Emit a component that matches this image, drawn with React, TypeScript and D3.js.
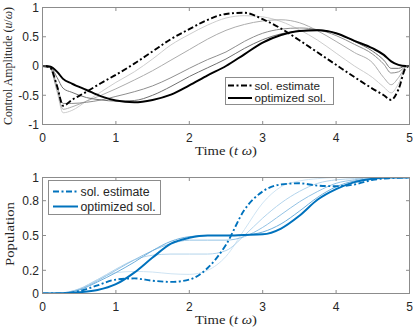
import * as d3 from 'd3'

// time grids (t·ω)
const ctrlT = [0, 0.1, 0.2, 0.28, 0.4, 0.6, 0.8, 1, 1.25, 1.5, 1.75, 2, 2.25, 2.5, 2.75, 3, 3.25, 3.5, 3.75, 4, 4.25, 4.5, 4.65, 4.75, 4.85, 4.95, 5]
const popT = [0, 0.25, 0.5, 0.75, 1, 1.25, 1.5, 1.75, 2, 2.25, 2.5, 2.75, 3, 3.25, 3.5, 3.75, 4, 4.25, 4.5, 4.75, 5]

// control amplitude (u/ω)
const ctrlEstimate = [0, -0.02, -0.35, -0.68, -0.58, -0.44, -0.29, -0.15, 0.04, 0.25, 0.46, 0.63, 0.79, 0.89, 0.91, 0.8, 0.64, 0.44, 0.23, 0.02, -0.19, -0.39, -0.5, -0.58, -0.4, -0.03, 0]
const ctrlIter1 = [0, -0.03, -0.45, -0.8, -0.76, -0.6, -0.44, -0.28, -0.1, 0.12, 0.36, 0.54, 0.7, 0.82, 0.86, 0.84, 0.76, 0.62, 0.44, 0.22, 0.0, -0.2, -0.36, -0.46, -0.3, -0.02, 0]
const ctrlIter2 = [0, -0.03, -0.42, -0.74, -0.7, -0.6, -0.5, -0.39, -0.24, -0.08, 0.1, 0.28, 0.46, 0.61, 0.71, 0.77, 0.79, 0.74, 0.6, 0.42, 0.23, 0.05, -0.2, -0.32, -0.2, -0.02, 0]
const ctrlIter3 = [0, -0.02, -0.35, -0.64, -0.64, -0.62, -0.58, -0.52, -0.44, -0.34, -0.2, -0.04, 0.11, 0.24, 0.42, 0.56, 0.63, 0.65, 0.62, 0.52, 0.37, 0.2, 0.03, -0.12, -0.1, -0.01, 0]
const ctrlIter4 = [0, -0.01, -0.2, -0.38, -0.45, -0.54, -0.58, -0.6, -0.59, -0.5, -0.35, -0.18, -0.03, 0.12, 0.3, 0.45, 0.55, 0.6, 0.62, 0.56, 0.42, 0.25, 0.1, -0.04, -0.04, 0, 0]
const ctrlOptimized = [0, -0.01, -0.1, -0.22, -0.3, -0.41, -0.52, -0.59, -0.62, -0.58, -0.49, -0.33, -0.16, 0.0, 0.2, 0.4, 0.53, 0.6, 0.61, 0.56, 0.43, 0.3, 0.19, 0.08, 0.02, 0, 0]

// population
const popEstimate = [0, 0, 0.02, 0.07, 0.12, 0.13, 0.11, 0.1, 0.12, 0.22, 0.42, 0.72, 0.88, 0.94, 0.95, 0.93, 0.925, 0.94, 0.98, 0.995, 1]
const popIter1 = [0, 0.005, 0.04, 0.12, 0.18, 0.19, 0.185, 0.17, 0.165, 0.2, 0.32, 0.55, 0.78, 0.92, 0.97, 0.99, 1, 1, 1, 1, 1]
const popIter2 = [0, 0.005, 0.04, 0.12, 0.21, 0.29, 0.33, 0.34, 0.34, 0.34, 0.37, 0.5, 0.65, 0.78, 0.88, 0.95, 0.98, 0.99, 1, 1, 1]
const popIter3 = [0, 0.004, 0.035, 0.11, 0.2, 0.29, 0.37, 0.43, 0.46, 0.46, 0.46, 0.49, 0.57, 0.68, 0.79, 0.88, 0.95, 0.98, 1, 1, 1]
const popIter4 = [0, 0.003, 0.03, 0.1, 0.18, 0.27, 0.37, 0.45, 0.49, 0.5, 0.5, 0.505, 0.53, 0.6, 0.71, 0.83, 0.92, 0.97, 0.99, 1, 1]
const popOptimized = [0, 0, 0.01, 0.03, 0.08, 0.18, 0.31, 0.43, 0.48, 0.5, 0.5, 0.505, 0.51, 0.56, 0.67, 0.81, 0.9, 0.96, 0.99, 1, 1]

const xTicks = [0, 1, 2, 3, 4, 5]
const ctrlTicks = [-1, -0.5, 0, 0.5, 1]
const popTicks = [0, 0.2, 0.5, 0.8, 1]
const legendLabels = ['sol. estimate', 'optimized sol.']

const grays = ['#cdcdcd', '#acacac', '#8e8e8e', '#707070']
const blues = ['#cfe4f3', '#b3d4ec', '#93c2e4', '#6eaedb']
const BLUE = '#0072BD'
const AXIS = '#8c8c8c'
const SANS = '"Liberation Sans", Arial, sans-serif'
const SERIF = '"Liberation Serif", "Times New Roman", serif'
const DASHDOT = '6,2.5,2,2.5'

function Panel({ top, bottom, yDomain, yTicks, t, iters, colors, estimate, optimized, mainColor, legend, ylabel }) {
  const x = d3.scaleLinear().domain([0, 5]).range([42.5, 409.5])
  const y = d3.scaleLinear().domain(yDomain).range([bottom, top])
  const line = (vals: number[]) =>
    d3.line<number>().x((_, i) => x(t[i])).y((d) => y(d)).curve(d3.curveMonotoneX)(vals)
  const [l, r] = x.range()
  return (
    <g>
      <defs>
        <clipPath id={'clip' + top}>
          <rect x={l} y={top} width={r - l} height={bottom - top} />
        </clipPath>
      </defs>
      <g clipPath={`url(#clip${top})`} fill="none">
        {iters.map((v, i) => (
          <path key={i} d={line(v)} stroke={colors[i]} strokeWidth={1} />
        ))}
        <path d={line(estimate)} stroke={mainColor} strokeWidth={1.9} strokeDasharray={DASHDOT} />
        <path d={line(optimized)} stroke={mainColor} strokeWidth={2} />
      </g>
      <rect x={l} y={top} width={r - l} height={bottom - top} fill="none" stroke={AXIS} strokeWidth={1} />
      {xTicks.map((v) => (
        <g key={v}>
          <line x1={x(v)} x2={x(v)} y1={bottom} y2={bottom - 3.5} stroke={AXIS} />
          <line x1={x(v)} x2={x(v)} y1={top} y2={top + 3.5} stroke={AXIS} />
          <text x={x(v)} y={bottom + 17} textAnchor="middle" fontFamily={SANS} fontSize={12} fill="#262626">{v}</text>
        </g>
      ))}
      {yTicks.map((v) => (
        <g key={v}>
          <line x1={l} x2={l + 3.5} y1={y(v)} y2={y(v)} stroke={AXIS} />
          <line x1={r} x2={r - 3.5} y1={y(v)} y2={y(v)} stroke={AXIS} />
          <text x={39} y={y(v)} dy="0.36em" textAnchor="end" fontFamily={SANS} fontSize={12} fill="#262626">{v}</text>
        </g>
      ))}
      <text x={(l + r) / 2} y={bottom + 30} textAnchor="middle" fontFamily={SERIF} fontSize={13} fill="#262626"
        textLength={62} lengthAdjust="spacingAndGlyphs">
        Time (<tspan fontStyle="italic">t</tspan> <tspan fontStyle="italic">ω</tspan>)
      </text>
      {ylabel}
      <g>
        <rect x={legend.x0} y={legend.y0} width={legend.x1 - legend.x0} height={legend.y1 - legend.y0} fill="#fff" stroke={AXIS} />
        {legendLabels.map((lab, i) => (
          <g key={lab}>
            <line x1={legend.lx0} x2={legend.lx1} y1={legend.rows[i]} y2={legend.rows[i]} stroke={mainColor}
              strokeWidth={i === 0 ? 1.9 : 2} strokeDasharray={i === 0 ? DASHDOT : undefined} />
            <text x={legend.lx1 + 2.5} y={legend.rows[i]} dy="0.36em" fontFamily={SANS} fontSize={legend.fs} fill="#262626">{lab}</text>
          </g>
        ))}
      </g>
    </g>
  )
}

export default function App() {
  return (
    <svg width={415} height={329} style={{ position: 'absolute', left: 0, top: 0, background: '#fff' }}>
      <Panel
        top={7.5}
        bottom={124.5}
        yDomain={[-1, 1]}
        yTicks={ctrlTicks}
        t={ctrlT}
        iters={[ctrlIter1, ctrlIter2, ctrlIter3, ctrlIter4]}
        colors={grays}
        estimate={ctrlEstimate}
        optimized={ctrlOptimized}
        mainColor="#000"
        legend={{ x0: 225.5, x1: 333.5, y0: 77.5, y1: 104.5, rows: [85.5, 98], lx0: 228, lx1: 252, fs: 11.7 }}
        ylabel={
          <text transform="translate(11.5,66) rotate(-90)" textAnchor="middle" fontFamily={SERIF} fontSize={12.5} fill="#262626"
            textLength={118} lengthAdjust="spacingAndGlyphs">
            Control Amplitude (<tspan fontStyle="italic">u</tspan>/<tspan fontStyle="italic">ω</tspan>)
          </text>
        }
      />
      <Panel
        top={177.5}
        bottom={293.5}
        yDomain={[0, 1]}
        yTicks={popTicks}
        t={popT}
        iters={[popIter1, popIter2, popIter3, popIter4]}
        colors={blues}
        estimate={popEstimate}
        optimized={popOptimized}
        mainColor={BLUE}
        legend={{ x0: 48.5, x1: 160.5, y0: 180.5, y1: 214.5, rows: [191.5, 206.5], lx0: 53, lx1: 78, fs: 12.3 }}
        ylabel={
          <text transform="translate(14,234) rotate(-90)" textAnchor="middle" fontFamily={SERIF} fontSize={13} fill="#262626"
            textLength={64} lengthAdjust="spacingAndGlyphs">
            Population
          </text>
        }
      />
    </svg>
  )
}
